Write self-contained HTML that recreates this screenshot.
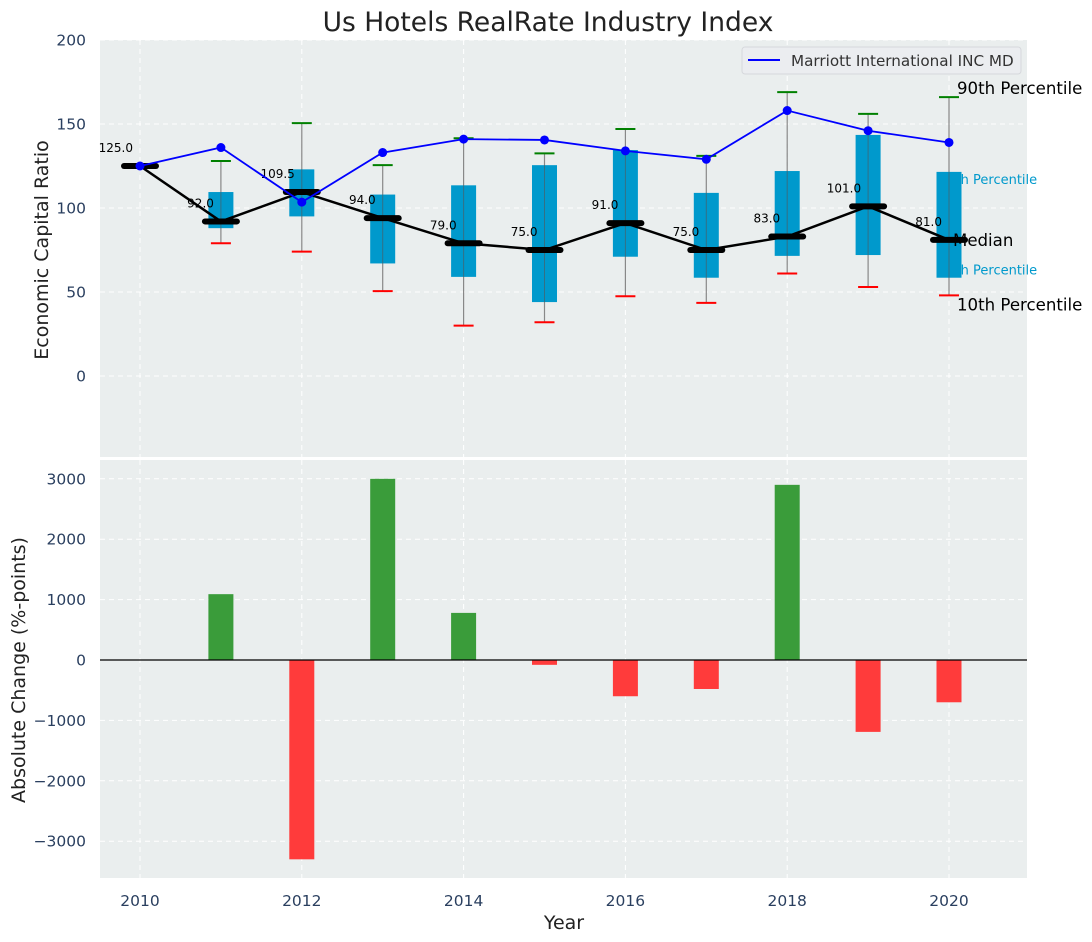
<!DOCTYPE html>
<html><head><meta charset="utf-8"><style>
body{margin:0;background:#fff;}
svg{display:block;font-family:"DejaVu Sans","Liberation Sans",sans-serif;}
.tick{fill:#2a3f5f;font-size:15.5px;}
</style></head><body>
<svg id="chart" width="1092" height="942" xmlns="http://www.w3.org/2000/svg">
<text x="548" y="31" text-anchor="middle" font-size="26.5" fill="#222">Us Hotels RealRate Industry Index</text>
<rect x="100" y="40" width="927" height="417" fill="#eaeeee"/>
<rect x="100" y="460" width="927" height="418" fill="#eaeeee"/>
<g id="grid"></g>
<g id="marks"></g>
<text transform="translate(48,250) rotate(-90)" text-anchor="middle" font-size="19" fill="#222">Economic Capital Ratio</text>
<text transform="translate(25,670) rotate(-90)" text-anchor="middle" font-size="19" fill="#222">Absolute Change (%-points)</text>
<text x="564" y="929" text-anchor="middle" font-size="19" fill="#222">Year</text>
<g>
<rect x="742" y="47" width="279" height="27" rx="3" fill="#ebedf0" stroke="#d6d8dc"/>
<line x1="748" y1="60" x2="780" y2="60" stroke="#0000ff" stroke-width="2"/>
<text x="791" y="66" font-size="15.2" fill="#333">Marriott International INC MD</text>
</g>
</svg>
<script>
const years=[2010,2011,2012,2013,2014,2015,2016,2017,2018,2019,2020];
const p90=[125,128,150.5,125.5,141.5,132.5,147,131,169,156,166];
const q75=[125,109.5,123,108,113.5,125.5,134.5,109,122,143.5,121.5];
const medians=[125,92,109.5,94,79,75,91,75,83,101,81];
const q25=[125,88,95,67,59,44,71,58.5,71.5,72,58.5];
const p10=[125,79,74,50.5,30,32,47.5,43.5,61,53,48];
const company=[125,136,103.5,133,141,140.5,134,129,158,146,139];
const changes=[0,1090,-3300,3000,780,-80,-600,-480,2900,-1190,-700];
const topTicks=[0,50,100,150,200];
const botTicks=[-3000,-2000,-1000,0,1000,2000,3000];
const xTicks=[2010,2012,2014,2016,2018,2020];

const NS="http://www.w3.org/2000/svg";
const X=v=>140+(v-2010)*80.9;
const YT=v=>376-v*1.68;
const YB=v=>660-v*0.0604;
const grid=document.getElementById('grid'), marks=document.getElementById('marks');
function el(p,tag,a,txt){const e=document.createElementNS(NS,tag);for(const k in a)e.setAttribute(k,a[k]);if(txt!==undefined)e.textContent=txt;p.appendChild(e);return e;}

xTicks.forEach(t=>{
  let g=el(grid,'line',{x1:X(t),x2:X(t),y1:40,y2:457,stroke:'#fff','stroke-dasharray':'5,4','stroke-width':1});
  
  
  g=el(grid,'line',{x1:X(t),x2:X(t),y1:460,y2:878,stroke:'#fff','stroke-dasharray':'5,4','stroke-width':1});
  
  
  const tl=el(grid,'text',{x:X(t),y:906,'text-anchor':'middle',class:'tick'},t);
  
  
});
topTicks.forEach(t=>{
  const g=el(grid,'line',{x1:100,x2:1027,y1:YT(t),y2:YT(t),stroke:'#fff','stroke-dasharray':'5,4'});
  
  
  const tl=el(grid,'text',{x:86,y:YT(t)+5.5,'text-anchor':'end',class:'tick'},t);
  
  
});
botTicks.forEach(t=>{
  const g=el(grid,'line',{x1:100,x2:1027,y1:YB(t),y2:YB(t),stroke:'#fff','stroke-dasharray':'5,4'});
  
  
  const tl=el(grid,'text',{x:86,y:YB(t)+5.5,'text-anchor':'end',class:'tick'},t<0?'\u2212'+(-t):t);
  
  
});

const last=years.length-1;
let lb=el(marks,'text',{x:X(years[last])-10,y:YT(q75[last])+12,'font-size':13,fill:'#0099cc'},'75th Percentile');


lb=el(marks,'text',{x:X(years[last])-10,y:YT(q25[last])-3,'font-size':13,fill:'#0099cc'},'25th Percentile');



years.forEach((y,i)=>{
  const cx=X(y);
  const w=el(marks,'line',{x1:cx,x2:cx,y1:YT(p90[i]),y2:YT(p10[i]),stroke:'#888','stroke-width':1.2});
  
  
  const b=el(marks,'rect',{x:cx-12.5,y:YT(q75[i]),width:25,height:YT(q25[i])-YT(q75[i]),fill:'#0099cc'});
  
  
  const w2=el(marks,'line',{x1:cx,x2:cx,y1:YT(q75[i]),y2:YT(q25[i]),stroke:'#555','stroke-opacity':0.6,'stroke-width':1});
  
  
  if(p90[i]!==q75[i]){
  const c1=el(marks,'line',{x1:cx-10,x2:cx+10,y1:YT(p90[i]),y2:YT(p90[i]),stroke:'#008000','stroke-width':2});
  
  
  const c2=el(marks,'line',{x1:cx-10,x2:cx+10,y1:YT(p10[i]),y2:YT(p10[i]),stroke:'#ff0000','stroke-width':2});
  
  
  }
  const bar=el(marks,'rect',{x:cx-12.5,y:Math.min(YB(0),YB(changes[i])),width:25,height:Math.abs(YB(changes[i])-YB(0)),fill:changes[i]>=0?'#3a9c3a':'#ff3b3b'});
  
  
});
let ml=el(marks,'polyline',{points:years.map((y,i)=>X(y)+','+YT(medians[i])).join(' '),fill:'none',stroke:'#000','stroke-width':2.5});


years.forEach((y,i)=>{
  const m=el(marks,'line',{x1:X(y)-16,x2:X(y)+16,y1:YT(medians[i]),y2:YT(medians[i]),stroke:'#000','stroke-width':6,'stroke-linecap':'round'});
  
  
  const t=el(marks,'text',{x:X(y)-7,y:YT(medians[i])-14,'text-anchor':'end','font-size':12,fill:'#000'},medians[i].toFixed(1));
  
  
});
let cl=el(marks,'polyline',{points:years.map((y,i)=>X(y)+','+YT(company[i])).join(' '),fill:'none',stroke:'#0000ff','stroke-width':1.8});


years.forEach((y,i)=>{
  const d=el(marks,'circle',{cx:X(y),cy:YT(company[i]),r:4.5,fill:'#0000ff'});
  
  
});
lb=el(marks,'text',{x:X(years[last])+8,y:YT(p90[last])-3,'font-size':16.6,fill:'#000'},'90th Percentile');


lb=el(marks,'text',{x:X(years[last])+4,y:YT(medians[last])+6,'font-size':16.6,fill:'#000'},'Median');


lb=el(marks,'text',{x:X(years[last])+8,y:YT(p10[last])+15,'font-size':16.6,fill:'#000'},'10th Percentile');


const zl=el(marks,'line',{x1:100,x2:1027,y1:YB(0),y2:YB(0),stroke:'#000','stroke-width':1.3});


</script>
</body></html>
